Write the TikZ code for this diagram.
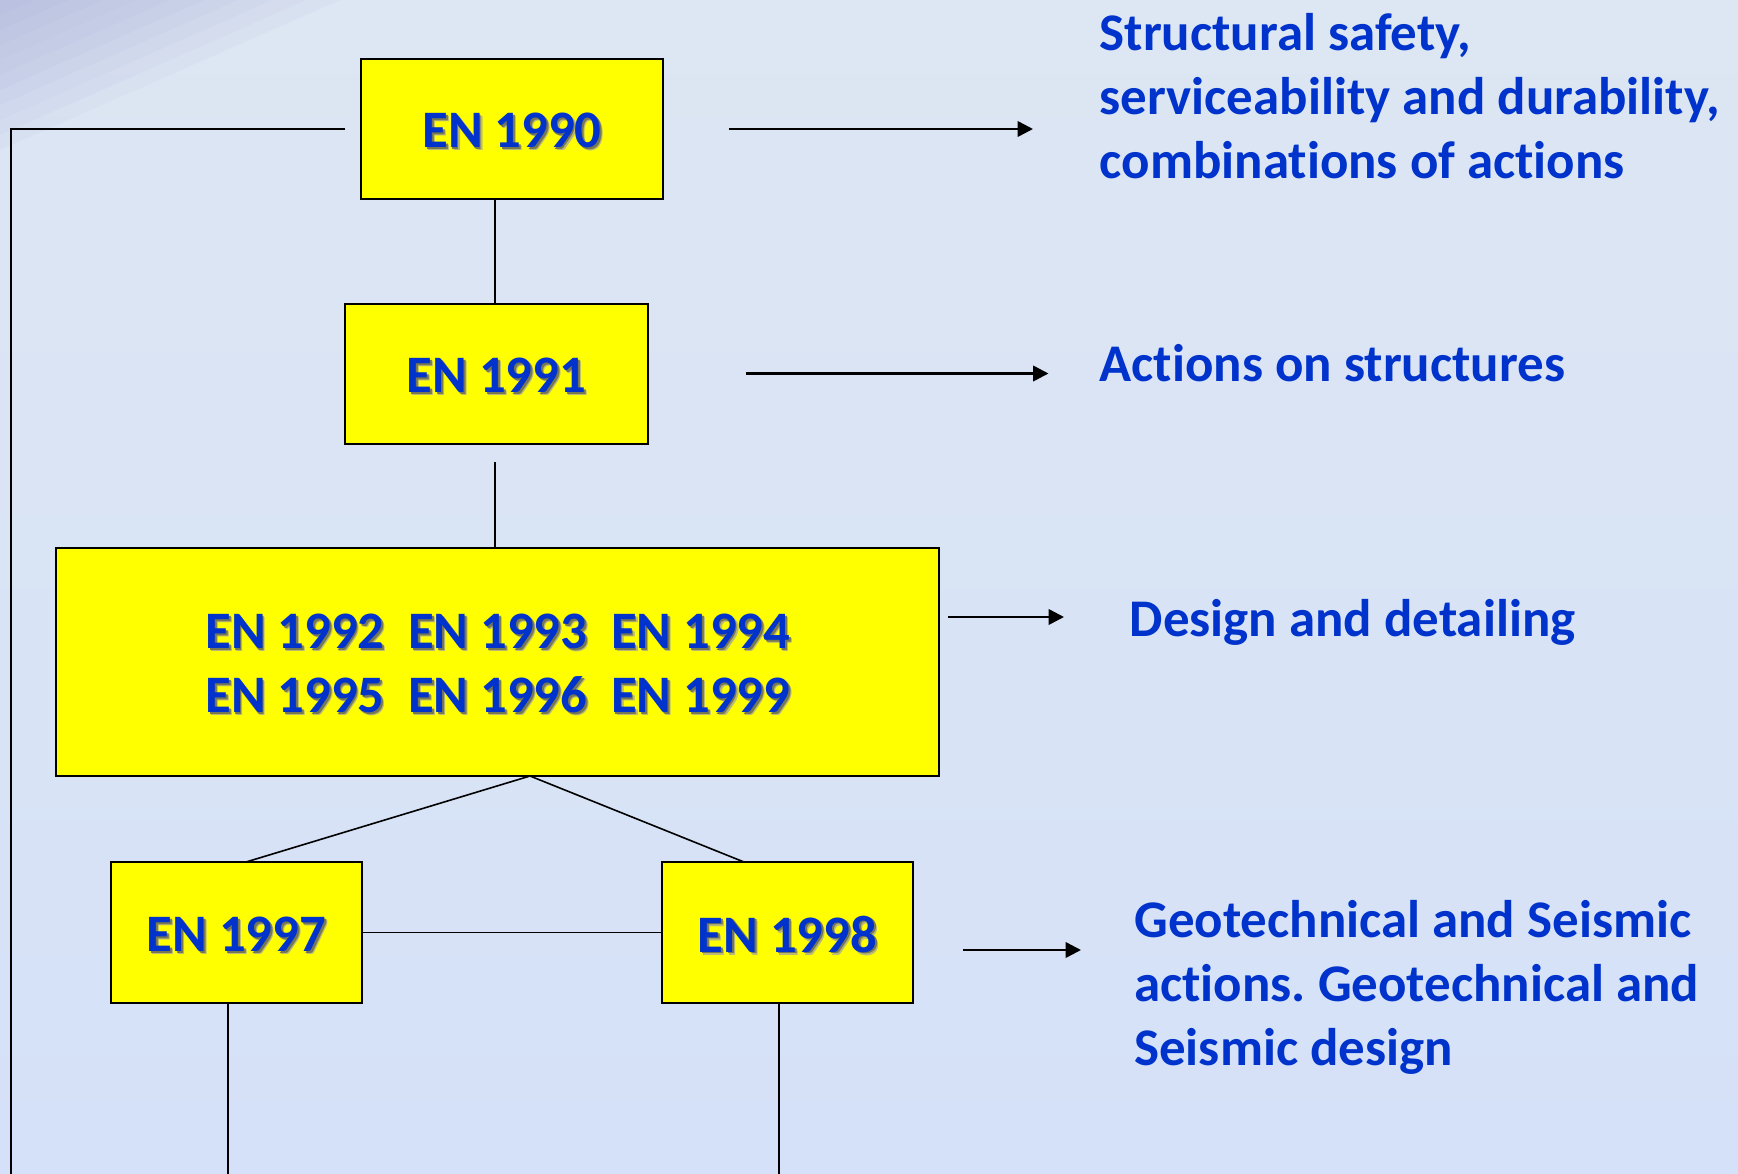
\documentclass[tikz,border=0pt]{standalone}
\usepackage{fontspec}
\setmainfont{Carlito}[Ligatures={NoCommon}]
\usetikzlibrary{arrows.meta}
\frenchspacing
\definecolor{bgtop}{RGB}{221,230,243}
\definecolor{bgbot}{RGB}{213,225,248}
\definecolor{cornercol}{RGB}{160,166,214}
\definecolor{txtblue}{RGB}{0,51,204}
\definecolor{boxyellow}{RGB}{255,255,0}
\definecolor{shadowfar}{RGB}{185,185,120}
\definecolor{shadownear}{RGB}{120,120,80}
\newcommand\shtxt[1]{\raisebox{-2.3pt}[\height][\depth]{\makebox[0pt][l]{\raisebox{-2.2pt}{\hspace{2.2pt}\textcolor{shadowfar}{#1}}}\makebox[0pt][l]{\raisebox{-1.3pt}{\hspace{1.3pt}\textcolor{shadownear}{#1}}}#1}}
\begin{document}
\begin{tikzpicture}[x=0.75pt,y=-0.75pt,
  enbox/.style={draw=black, line width=1.5pt, fill=boxyellow, inner sep=0pt,
    text=txtblue, font=\bfseries\fontsize{39.5}{48}\selectfont, align=center},
  desc/.style={text=txtblue, font=\bfseries\fontsize{39.7}{48}\selectfont,
    align=left, inner sep=0pt, anchor=west},
  conn/.style={draw=black, line width=1.2pt},
  arr/.style={draw=black, line width=1.9pt, -{Triangle[length=11.5pt,width=11.5pt]}}]
\useasboundingbox (0,0) rectangle (1738,1174);
\begin{scope}
\clip (0,0) rectangle (1738,1174);
\shade[top color=bgtop, bottom color=bgbot] (0,0) rectangle (1738,1174);
\foreach \k in {1,...,10}{
  \fill[cornercol, opacity=0.07] (0,0) -- (\k*34,0) -- (0,\k*15) -- cycle;
}
\end{scope}

% boxes
\node[enbox, minimum width=226.5pt, minimum height=105pt] (e1990) at (512,129) {\shtxt{EN 1990}};
\node[enbox, minimum width=227.25pt, minimum height=105pt] (e1991) at (496.5,374) {\shtxt{EN 1991}};
\node[enbox, minimum width=661.9pt, minimum height=171pt] (edesign) at (497.75,662)
  {\shtxt{EN 1992\ \ EN 1993\ \ EN 1994}\\\shtxt{EN 1995\ \ EN 1996\ \ EN 1999}};
\node[enbox, minimum width=188.25pt, minimum height=105.75pt] (e1997) at (236.5,932.5) {\shtxt{EN 1997}};
\node[enbox, minimum width=188.25pt, minimum height=105.75pt] (e1998) at (787.5,932.5) {\shtxt{EN 1998}};

% descriptions
\node[desc] (t1990) at (1099.5,96) {Structural safety,\\serviceability and durability,\\combinations of actions};
\node[desc] (t1991) at (1099.5,363) {Actions on structures};
\node[desc] (tdesign) at (1129.5,622) {Design and detailing};
\node[desc] (t1998) at (1134,987) {Geotechnical and Seismic\\actions. Geotechnical and\\Seismic design};

% helper coordinates
\coordinate (cx) at (495,0);
\coordinate (bb) at (530,776);
\coordinate (top97) at (246,862);
\coordinate (top98) at (744,862);
\coordinate (d97) at (228,1174);
\coordinate (d98) at (779,1174);
\coordinate (l1) at (345,129);
\coordinate (l2) at (11,1174);
\coordinate (a1s) at (729,129);   \coordinate (a1e) at (1033,129);
\coordinate (a2s) at (746,373.5); \coordinate (a2e) at (1048.5,373.5);
\coordinate (a3s) at (948,617);   \coordinate (a3e) at (1064,617);
\coordinate (a4s) at (963,950);   \coordinate (a4e) at (1081,950);

% connectors
\draw[conn] (e1990.south -| cx) -- (e1991.north -| cx);
\draw[conn] ([yshift=-12.75pt]e1991.south -| cx) -- (edesign.north -| cx);
\draw[conn] (bb) -- (top97);
\draw[conn] (bb) -- (top98);
\draw[conn] (e1997) -- (e1998);
\draw[conn] (e1997.south -| d97) -- (d97);
\draw[conn] (e1998.south -| d98) -- (d98);
\draw[conn, line width=1.5pt] (l1) -| (l2);

% arrows
\draw[arr] (a1s) -- (a1e);
\draw[arr] (a2s) -- (a2e);
\draw[arr] (a3s) -- (a3e);
\draw[arr] (a4s) -- (a4e);
\end{tikzpicture}
\end{document}
